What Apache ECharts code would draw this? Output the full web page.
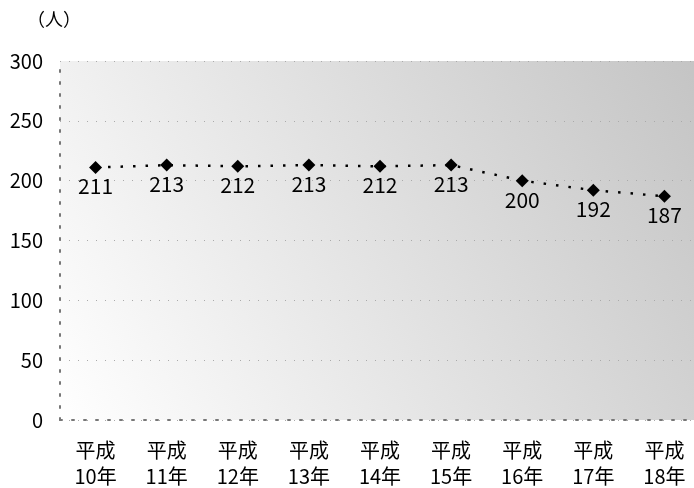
<!DOCTYPE html>
<html><head><meta charset="utf-8">
<script src="https://cdn.jsdelivr.net/npm/echarts@6/dist/echarts.min.js"></script>
<style>html,body{margin:0;padding:0;background:#fff}#c{width:694px;height:488px}</style>
</head><body><div id="c"></div>
<script>
const categories = ['平成\n10年','平成\n11年','平成\n12年','平成\n13年','平成\n14年','平成\n15年','平成\n16年','平成\n17年','平成\n18年'];
const values = [211, 213, 212, 213, 212, 213, 200, 192, 187];
const yTicks = [0, 50, 100, 150, 200, 250, 300];
const FONT = '"Noto Sans CJK JP", sans-serif';
const chart = echarts.init(document.getElementById('c'));
chart.setOption({
  animation: false,
  grid: {left: 60, right: -6, top: 61, bottom: 68, outerBoundsMode: 'none', containLabel: false,
    show: true, borderWidth: 0,
    backgroundColor: {type: 'linear', x: 0, y: 1, x2: 1, y2: 0,
      colorStops: [{offset: 0, color: '#ffffff'}, {offset: 1, color: '#c4c4c4'}]}},
  xAxis: {type: 'category', data: categories, boundaryGap: true,
    axisLine: {lineStyle: {color: '#777', type: [2, 10], width: 2}},
    axisTick: {show: false},
    axisLabel: {color: '#000', fontFamily: FONT, fontSize: 20, lineHeight: 26, margin: 17}},
  yAxis: {type: 'value', min: 0, max: 300, interval: 50,
    name: '（人）', nameLocation: 'end', nameGap: 33,
    nameTextStyle: {color: '#000', fontFamily: FONT, fontSize: 18, align: 'center', padding: [0, 12, 0, 0]},
    axisLine: {show: true, lineStyle: {color: '#777', type: [2, 10], width: 2}},
    axisTick: {show: false},
    splitLine: {lineStyle: {color: '#aaa', type: [1, 8], width: 1}},
    axisLabel: {color: '#000', fontFamily: FONT, fontSize: 20, margin: 17,
      formatter: v => yTicks.includes(v) ? String(v) : ''}},
  series: [{type: 'line', data: values,
    symbol: 'diamond', symbolSize: 13,
    itemStyle: {color: '#000'},
    lineStyle: {color: '#000', type: [2.5, 10], width: 2.5},
    label: {show: true, position: 'bottom', distance: 2, color: '#000', fontFamily: FONT, fontSize: 21}}]
});
</script></body></html>
